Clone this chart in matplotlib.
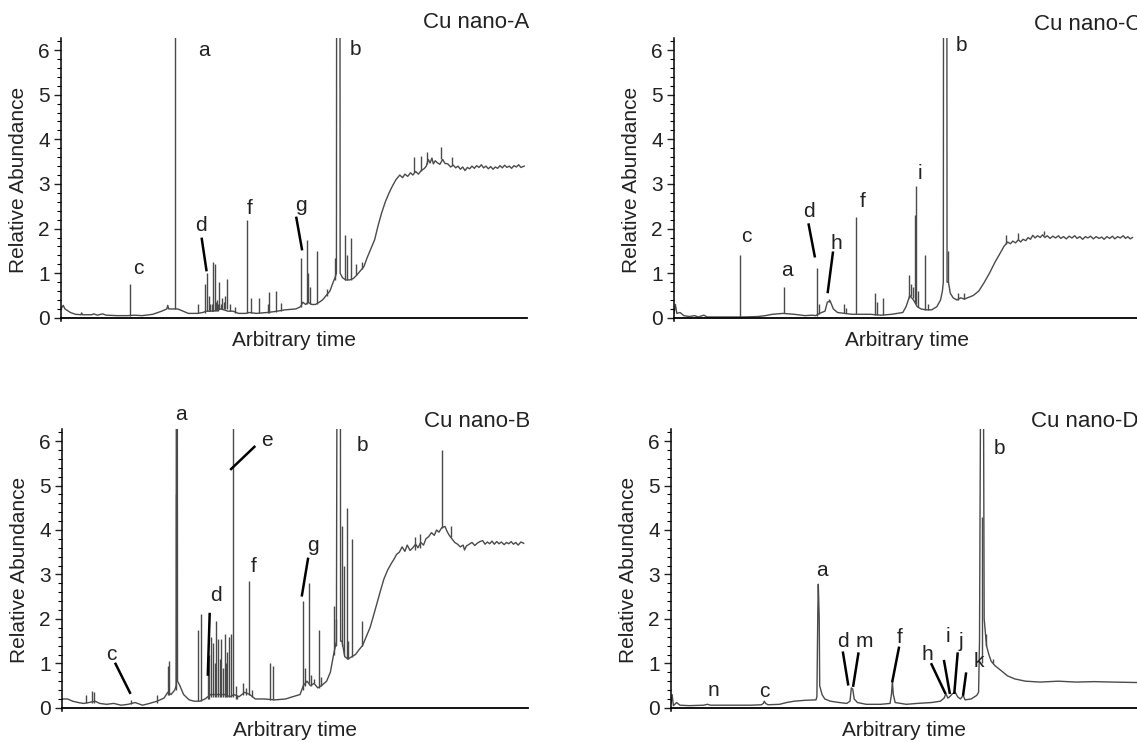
import numpy as np
import matplotlib
matplotlib.use("Agg")
import matplotlib.pyplot as plt
from matplotlib.ticker import MultipleLocator

plt.rcParams['font.family'] = ['Liberation Sans', 'DejaVu Sans']

# ---------------- Cu nano-A ----------------
a_base_x = [0.0, 0.46, 0.85, 2.0, 3.1, 4.3, 4.4, 4.6, 6.6, 7.0, 7.8, 8.9, 9.7, 12.0, 14.3, 15.8, 17.4,
            19.7, 21.6, 22.7, 22.9, 23.1, 23.9, 25.0, 26.2, 27.3, 29.3, 30.4, 31.2, 32.7, 34.3, 35.8,
            36.9, 38.1, 39.6, 40.4, 41.9, 44.2, 45.8, 48.1, 50.4, 51.4, 51.9, 52.5, 53.0, 53.8, 54.6,
            55.4, 56.1, 56.9, 57.7, 58.4, 58.8, 59.1, 59.15, 59.85, 59.9, 60.4, 61.1, 61.9, 62.7,
            63.4, 64.2, 65.0, 65.7, 66.5, 67.3, 68.0, 68.8, 69.6, 70.4, 71.1, 71.9, 72.7, 73.3, 73.8,
            74.4, 75.0, 75.5, 76.1, 76.7, 77.3, 77.9, 78.4, 78.8, 79.2, 79.6, 79.9, 80.3, 80.7, 81.3,
            81.9, 82.4, 83.0, 83.6, 84.2, 84.7, 85.2, 85.7, 86.2, 86.7, 87.2, 87.7, 88.2, 88.7, 89.2,
            89.7, 90.2, 90.7, 91.2, 91.7, 92.2, 92.7, 93.2, 93.7, 94.2, 94.7, 95.2, 95.7, 96.2, 96.7,
            97.2, 97.7, 98.2, 98.7, 99.4]
a_base_y = [0.2, 0.28, 0.2, 0.12, 0.08, 0.07, 0.11, 0.07, 0.07, 0.09, 0.06, 0.09, 0.06, 0.05, 0.05, 0.06, 0.05,
            0.08, 0.15, 0.2, 0.28, 0.2, 0.2, 0.2, 0.15, 0.1, 0.1, 0.12, 0.15, 0.15, 0.2, 0.15,
            0.15, 0.1, 0.1, 0.12, 0.1, 0.12, 0.14, 0.18, 0.2, 0.25, 0.35, 0.3, 0.35, 0.3, 0.3,
            0.35, 0.4, 0.5, 0.6, 0.8, 0.9, 1.0, 9.0, 9.0, 1.0, 0.9, 0.85, 0.85, 0.88,
            0.95, 1.05, 1.15, 1.35, 1.55, 1.75, 2.05, 2.35, 2.6, 2.8, 2.95, 3.1, 3.2, 3.14, 3.22,
            3.17, 3.25, 3.2, 3.28, 3.22, 3.3, 3.34, 3.4, 3.55, 3.47, 3.58, 3.45, 3.52, 3.48, 3.44,
            3.55, 3.46, 3.45, 3.38, 3.42, 3.36, 3.40, 3.33, 3.38, 3.30, 3.37, 3.34, 3.40, 3.35, 3.41,
            3.37, 3.43, 3.36, 3.40, 3.34, 3.39, 3.33, 3.38, 3.35, 3.41, 3.36, 3.42, 3.37, 3.40, 3.35,
            3.41, 3.38, 3.43, 3.37, 3.40]
a_peak_x = [14.8, 24.4, 29.3, 31.0, 31.4, 31.8, 32.0, 32.3, 32.7, 33.0, 33.2, 33.5, 33.7, 34.0, 34.3,
            34.6, 34.9, 35.2, 35.6, 36.2, 37.3, 40.0, 40.8, 42.5, 44.4, 44.7, 46.2, 47.3, 51.5, 52.8,
            53.1, 53.5, 55.0, 57.1, 58.7, 60.9, 61.3, 62.3, 63.4, 64.6, 75.7, 77.3, 78.6, 81.6, 84.0]
a_peak_lo = [0.05, 0.2, 0.1, 0.12, 0.15, 0.15, 0.15, 0.15, 0.15, 0.15, 0.15, 0.15, 0.15, 0.2, 0.2,
             0.2, 0.2, 0.2, 0.2, 0.15, 0.12, 0.1, 0.12, 0.1, 0.12, 0.12, 0.14, 0.15, 0.25, 0.3,
             0.35, 0.3, 0.3, 0.5, 0.85, 0.85, 0.85, 0.85, 0.95, 1.1, 3.27, 3.3, 3.45, 3.55, 3.42]
a_peak_hi = [0.75, 9.0, 0.3, 0.75, 1.0, 0.5, 0.3, 0.3, 1.25, 1.2, 0.35, 0.4, 0.3, 0.8, 0.3,
             0.45, 0.35, 0.5, 0.88, 0.3, 0.25, 2.2, 0.45, 0.45, 0.3, 0.58, 0.6, 0.33, 1.35, 1.75,
             1.0, 0.7, 1.5, 0.65, 1.35, 1.85, 1.4, 1.78, 1.2, 1.25, 3.6, 3.62, 3.72, 3.82, 3.6]
a_labels = ['c', 'a', 'b', 'd', 'f', 'g']
a_label_x = [16.6, 30.6, 63.1, 30.0, 40.4, 51.5]
a_label_y = [1.1, 6.0, 6.02, 2.07, 2.44, 2.51]
a_lead_x = [[30.2, 31.2], [50.5, 51.7]]
a_lead_y = [[1.77, 1.07], [2.24, 1.54]]

# ---------------- Cu nano-C ----------------
c_base_x = [0.0, 0.3, 0.6, 1.3, 2.1, 3.3, 4.4, 5.2, 6.4, 7.1, 10.2, 14.0, 14.9, 18.0, 19.6, 21.1,
            23.4, 25.8, 28.1, 29.7, 30.4, 31.2, 32.4, 32.9, 33.5, 34.2, 35.1, 36.6, 38.2, 39.7, 42.1,
            44.4, 46.7, 49.1, 49.8, 50.6, 51.4, 52.2, 53.0, 54.1, 55.3, 56.4, 57.2, 57.6, 57.8, 57.85,
            58.55, 58.6, 58.9, 59.3, 59.9, 60.7, 61.5, 62.3, 63.0, 64.2, 65.4, 66.5, 67.7, 68.9, 70.0,
            70.8, 71.6, 72.2, 72.7, 73.3, 73.9, 74.4, 74.9, 75.5, 76.0, 76.5, 77.0, 77.5, 78.0, 78.6,
            79.1, 79.6, 80.1, 80.7, 81.3, 81.9, 82.5, 83.0, 83.6, 84.2, 84.8, 85.4, 86.0, 86.5, 87.1,
            87.7, 88.3, 88.8, 89.4, 90.0, 90.6, 91.2, 91.8, 92.3, 92.9, 93.5, 94.1, 94.6, 95.2, 95.8,
            96.4, 96.9, 97.4, 97.9, 98.4]
c_base_y = [0.1, 0.3, 0.1, 0.12, 0.05, 0.03, 0.05, 0.02, 0.06, 0.02, 0.02, 0.02, 0.02, 0.03, 0.05, 0.08,
            0.1, 0.08, 0.05, 0.06, 0.05, 0.1, 0.15, 0.35, 0.38, 0.2, 0.12, 0.1, 0.08, 0.08, 0.08,
            0.06, 0.08, 0.12, 0.25, 0.5, 0.4, 0.25, 0.2, 0.18, 0.18, 0.25, 0.4, 0.6, 0.8, 9.0,
            9.0, 0.8, 0.8, 0.55, 0.45, 0.4, 0.45, 0.42, 0.45, 0.5, 0.6, 0.78, 1.0, 1.25, 1.45,
            1.6, 1.7, 1.66, 1.72, 1.68, 1.75, 1.70, 1.76, 1.73, 1.80, 1.76, 1.85, 1.79, 1.84, 1.80,
            1.86, 1.80, 1.84, 1.78, 1.83, 1.79, 1.84, 1.78, 1.82, 1.77, 1.83, 1.79, 1.84, 1.78, 1.82,
            1.76, 1.82, 1.79, 1.83, 1.77, 1.82, 1.78, 1.81, 1.76, 1.82, 1.78, 1.83, 1.77, 1.82, 1.79,
            1.84, 1.78, 1.82, 1.77, 1.80]
c_peak_x = [14.2, 23.7, 30.7, 31.2, 33.2, 36.4, 37.0, 39.1, 43.2, 43.6, 44.8, 50.4, 50.8, 51.2,
            51.8, 52.0, 52.3, 53.9, 54.5, 58.9, 60.9, 62.3, 71.2, 73.9, 79.3]
c_peak_lo = [0.02, 0.1, 0.05, 0.08, 0.35, 0.1, 0.1, 0.08, 0.07, 0.07, 0.06, 0.45, 0.5, 0.45,
             0.35, 0.3, 0.25, 0.18, 0.18, 0.8, 0.4, 0.42, 1.65, 1.75, 1.85]
c_peak_hi = [1.4, 0.7, 1.12, 0.3, 0.42, 0.3, 0.22, 2.25, 0.55, 0.35, 0.45, 0.95, 0.75, 0.7,
             2.3, 2.95, 0.6, 1.4, 0.3, 1.5, 0.55, 0.55, 1.85, 1.9, 1.95]
c_labels = ['c', 'a', 'd', 'h', 'f', 'i', 'b']
c_label_x = [15.5, 24.2, 28.9, 34.9, 40.5, 52.8, 61.6]
c_label_y = [1.83, 1.05, 2.38, 1.66, 2.6, 3.23, 6.1]
c_lead_x = [[28.9, 30.2], [34.1, 33.0]]
c_lead_y = [[2.09, 1.38], [1.46, 0.58]]

# ---------------- Cu nano-B ----------------
b_base_x = [0.0, 1.2, 2.3, 3.5, 4.6, 5.8, 7.1, 8.1, 9.6, 11.1, 12.7, 14.2, 15.7, 17.3, 18.8, 20.4,
            21.9, 22.7, 23.4, 24.2, 24.5, 24.55, 24.75, 24.8, 25.3, 26.1, 27.3, 28.4, 29.6, 30.7,
            31.9, 33.4, 34.9, 36.1, 36.9, 38.0, 39.2, 40.3, 41.5, 43.4, 45.7, 48.0, 49.5, 51.1, 51.8,
            52.6, 53.3, 54.1, 54.9, 55.7, 56.8, 57.6, 58.3, 58.9, 59.05, 59.75, 59.8, 60.1, 60.7, 61.4,
            62.2, 63.0, 63.7, 64.5, 65.3, 66.1, 66.8, 67.6, 68.4, 69.1, 69.9, 70.7, 71.3, 71.8, 72.4,
            73.0, 73.6, 74.1, 74.7, 75.3, 75.9, 76.4, 77.0, 77.6, 78.1, 78.7, 79.3, 79.9, 80.4, 80.9,
            81.5, 82.2, 82.6, 83.0, 83.4, 83.7, 84.3, 84.9, 85.5, 86.1, 86.4, 86.8, 87.4, 88.0, 88.6,
            89.1, 89.7, 90.3, 90.8, 91.3, 91.8, 92.3, 92.8, 93.3, 93.8, 94.3, 94.9, 95.4, 95.9, 96.4,
            96.9, 97.4, 97.9, 98.5, 99.1]
b_base_y = [0.2, 0.2, 0.15, 0.12, 0.1, 0.12, 0.15, 0.1, 0.08, 0.1, 0.06, 0.08, 0.12, 0.06, 0.1, 0.15,
            0.22, 0.35, 0.3, 0.4, 0.5, 9.0, 9.0, 0.6, 0.5, 0.3, 0.18, 0.15, 0.15, 0.2,
            0.3, 0.3, 0.3, 0.25, 0.3, 0.25, 0.35, 0.3, 0.2, 0.2, 0.18, 0.2, 0.25, 0.3, 0.5,
            0.6, 0.5, 0.55, 0.45, 0.5, 0.6, 0.8, 1.2, 1.5, 9.0, 9.0, 1.5, 1.5, 1.15, 1.1,
            1.15, 1.2, 1.3, 1.4, 1.6, 1.8, 2.05, 2.35, 2.65, 2.9, 3.1, 3.25, 3.35, 3.45, 3.5,
            3.62, 3.52, 3.66, 3.54, 3.6, 3.68, 3.6, 3.72, 3.66, 3.8, 3.85, 3.94, 3.88, 4.0, 3.95,
            4.05, 4.08, 3.98, 3.9, 3.84, 3.8, 3.72, 3.68, 3.62, 3.66, 3.55, 3.64, 3.68, 3.72, 3.65,
            3.70, 3.74, 3.76, 3.68, 3.73, 3.69, 3.75, 3.68, 3.74, 3.69, 3.73, 3.67, 3.72, 3.69, 3.74,
            3.68, 3.72, 3.66, 3.73, 3.70]
b_peak_x = [5.2, 6.5, 6.9, 14.8, 20.4, 22.7, 23.0, 24.4, 29.2, 29.8, 31.3, 31.6, 32.0, 32.5, 32.8,
            33.1, 33.5, 33.9, 34.2, 34.6, 34.9, 35.2, 35.5, 35.9, 36.3, 36.6, 37.3, 37.6, 38.8,
            39.6, 40.1, 40.7, 44.7, 45.3, 51.7, 52.2, 53.1, 53.5, 54.1, 55.1, 55.7, 58.4, 58.8,
            60.1, 60.5, 61.1, 61.4, 62.2, 64.5, 75.7, 76.8, 81.6, 83.4]
b_peak_lo = [0.1, 0.12, 0.12, 0.08, 0.12, 0.3, 0.3, 0.4, 0.15, 0.15, 0.2, 0.2, 0.25, 0.25, 0.25,
             0.25, 0.25, 0.25, 0.25, 0.25, 0.25, 0.25, 0.25, 0.25, 0.25, 0.25, 0.2, 0.2, 0.3,
             0.3, 0.3, 0.25, 0.18, 0.18, 0.4, 0.5, 0.55, 0.5, 0.55, 0.45, 0.5, 1.2, 1.4,
             1.4, 1.2, 1.1, 1.1, 1.15, 1.4, 3.55, 3.6, 4.05, 3.85]
b_peak_hi = [0.3, 0.38, 0.35, 0.18, 0.3, 0.95, 1.05, 4.8, 1.75, 2.1, 0.9, 1.2, 1.6, 1.45, 1.0,
             1.95, 1.55, 1.1, 1.55, 0.9, 1.65, 1.0, 1.25, 1.6, 1.65, 9.0, 0.5, 0.3, 0.55,
             0.45, 2.85, 0.4, 1.0, 0.95, 2.4, 0.9, 2.8, 0.75, 0.65, 1.75, 0.7, 2.3, 2.0,
             4.1, 3.2, 4.5, 1.5, 3.8, 1.95, 3.85, 3.9, 5.8, 4.1]
b_labels = ['c', 'a', 'e', 'd', 'f', 'g', 'b']
b_label_x = [10.6, 25.6, 44.0, 33.0, 41.2, 53.8, 64.5]
b_label_y = [1.19, 6.6, 6.01, 2.53, 3.19, 3.65, 5.91]
b_lead_x = [[11.5, 14.6], [41.3, 36.3], [31.7, 31.3], [52.8, 51.5]]
b_lead_y = [[0.99, 0.34], [5.87, 5.37], [2.11, 0.75], [3.35, 2.53]]

# ---------------- Cu nano-D ----------------
d_base_x = [0.0, 0.23, 0.5, 1.2, 1.9, 3.9, 7.0, 7.8, 8.5, 13.2, 17.1, 19.4, 19.8, 20.0, 20.3, 20.8,
            23.3, 24.8, 26.4, 28.7, 31.1, 31.3, 31.5, 31.6, 31.8, 31.9, 32.4, 33.0, 34.2, 36.1, 37.7,
            38.4, 38.7, 39.0, 39.3, 40.0, 41.9, 45.0, 47.0, 47.3, 47.5, 47.7, 48.1, 50.5, 52.8, 55.9,
            57.8, 58.6, 59.0, 59.4, 59.8, 60.4, 61.0, 61.5, 62.1, 62.7, 63.1, 64.4, 65.6, 66.0, 66.2,
            66.5, 67.0, 67.2, 67.7, 68.2, 68.7, 69.5, 70.7, 72.2, 73.8, 76.1, 79.2, 83.1, 87.0, 90.8,
            94.7, 100.0]
d_base_y = [0.1, 0.3, 0.05, 0.12, 0.06, 0.05, 0.06, 0.08, 0.06, 0.06, 0.06, 0.07, 0.1, 0.15, 0.1, 0.07,
            0.08, 0.12, 0.15, 0.17, 0.18, 0.25, 2.2, 2.78, 2.0, 0.5, 0.3, 0.2, 0.15, 0.12, 0.1,
            0.15, 0.45, 0.42, 0.2, 0.12, 0.08, 0.08, 0.1, 0.3, 0.6, 0.3, 0.12, 0.08, 0.1, 0.12,
            0.15, 0.22, 0.32, 0.22, 0.25, 0.32, 0.35, 0.25, 0.2, 0.28, 0.18, 0.2, 0.28, 0.35, 1.5,
            9.0, 9.0, 2.0, 1.4, 1.2, 1.05, 0.95, 0.85, 0.72, 0.65, 0.6, 0.58, 0.6, 0.58, 0.59,
            0.58, 0.57]
d_peak_x = [66.8, 67.6, 69.0]
d_peak_lo = [1.0, 1.4, 1.0]
d_peak_hi = [4.3, 1.65, 1.1]
d_labels = ['n', 'c', 'a', 'd', 'm', 'f', 'h', 'i', 'j', 'k', 'b']
d_label_x = [9.1, 20.0, 32.4, 36.9, 41.5, 49.1, 55.0, 59.4, 62.3, 66.1, 70.4]
d_label_y = [0.38, 0.36, 3.08, 1.5, 1.5, 1.58, 1.19, 1.61, 1.5, 1.05, 5.83]
d_lead_x = [[36.9, 38.0], [40.2, 39.1], [48.9, 47.5], [55.9, 58.8], [58.6, 59.8], [61.5, 60.8], [63.3, 62.7]]
d_lead_y = [[1.24, 0.53], [1.22, 0.5], [1.35, 0.6], [0.98, 0.34], [1.05, 0.34], [1.22, 0.34], [0.77, 0.3]]

fig = plt.figure(figsize=(11.37, 7.42), dpi=100)
ax_a = fig.add_axes([0.0537, 0.5674, 0.4098, 0.3814])
ax_c = fig.add_axes([0.5928, 0.5674, 0.4098, 0.3814])
ax_b = fig.add_axes([0.0545, 0.0418, 0.4098, 0.380])
ax_d = fig.add_axes([0.5902, 0.0418, 0.4098, 0.380])

panels = [
    (ax_a, 'Cu nano-A', a_base_x, a_base_y, a_peak_x, a_peak_lo, a_peak_hi,
     a_labels, a_label_x, a_label_y, a_lead_x, a_lead_y, 1.053),
    (ax_c, 'Cu nano-C', c_base_x, c_base_y, c_peak_x, c_peak_lo, c_peak_hi,
     c_labels, c_label_x, c_label_y, c_lead_x, c_lead_y, 1.046),
    (ax_b, 'Cu nano-B', b_base_x, b_base_y, b_peak_x, b_peak_lo, b_peak_hi,
     b_labels, b_label_x, b_label_y, b_lead_x, b_lead_y, 1.025),
    (ax_d, 'Cu nano-D', d_base_x, d_base_y, d_peak_x, d_peak_lo, d_peak_hi,
     d_labels, d_label_x, d_label_y, d_lead_x, d_lead_y, 1.025),
]

trace_col = '#4a4a4a'
for (ax, title, bx, by, px, plo, phi, labs, lx, ly, ldx, ldy, ty) in panels:
    ax.plot(bx, by, color=trace_col, lw=1.0)
    ax.vlines(px, plo, phi, color=trace_col, lw=1.0)
    for lab, x, y in zip(labs, lx, ly):
        ax.text(x, y, lab, fontsize=15, ha='center', va='center', color='#222222')
    for xs, ys in zip(ldx, ldy):
        ax.plot(xs, ys, color='black', lw=1.8)
    ax.set_xlim(0, 100)
    ax.set_ylim(-0.07, 6.27)
    ax.spines['top'].set_visible(False)
    ax.spines['right'].set_visible(False)
    ax.spines['bottom'].set_position(('data', 0))
    ax.spines['left'].set_linewidth(1.1)
    ax.spines['bottom'].set_linewidth(1.3)
    ax.set_xticks([])
    ax.set_yticks([0, 1, 2, 3, 4, 5, 6])
    ax.yaxis.set_minor_locator(MultipleLocator(0.2))
    ax.tick_params(axis='y', which='major', length=5, width=1, labelsize=15, pad=3, colors='#222222')
    ax.tick_params(axis='y', which='minor', length=3, width=0.8)
    ax.set_ylabel('Relative Abundance', fontsize=15, color='#222222')
    ax.yaxis.set_label_coords(-0.071, 0.5)
    ax.text(0.5, -0.07, 'Arbitrary time', transform=ax.transAxes, ha='center', va='center',
            fontsize=15, color='#222222')
    ax.text(1.004, ty, title, transform=ax.transAxes, ha='right', va='center', fontsize=16,
            color='#222222')

fig.savefig('out.png', dpi=100)
